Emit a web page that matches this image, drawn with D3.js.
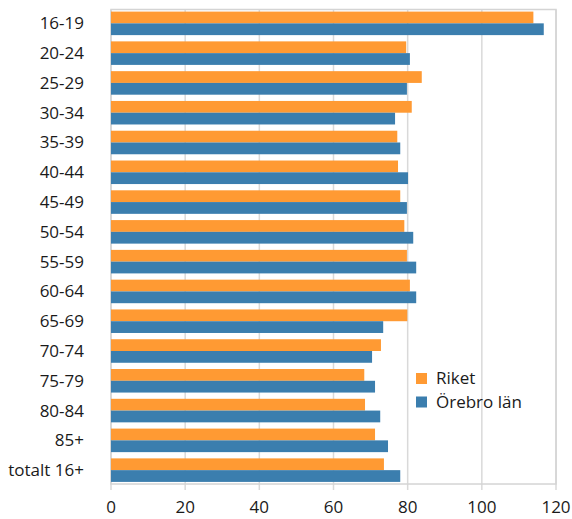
<!DOCTYPE html>
<html>
<head>
<meta charset="utf-8">
<script src="https://cdn.jsdelivr.net/npm/d3@7"></script>
<style>
  body { margin: 0; background: #fff; }
  svg text { font-family: "Open Sans", "Noto Sans", sans-serif; fill: #1a1a1a; }
</style>
</head>
<body>
<div class="container"></div>
<script>
// age groups, top to bottom
var categories = ["16-19", "20-24", "25-29", "30-34", "35-39", "40-44", "45-49", "50-54",
  "55-59", "60-64", "65-69", "70-74", "75-79", "80-84", "85+", "totalt 16+"];

var seriesNames = ["Riket", "Örebro län"];
var riket =  [113.9, 79.6, 83.8, 81.1, 77.2, 77.4, 78.0, 79.1, 79.8, 80.6, 79.9, 72.8, 68.3, 68.5, 71.2, 73.6];
var orebro = [116.7, 80.6, 79.8, 76.6, 78.0, 80.1, 79.8, 81.5, 82.3, 82.3, 73.4, 70.4, 71.2, 72.6, 74.7, 78.0];
var xTicks = [0, 20, 40, 60, 80, 100, 120];

var colors = ["#ff9a33", "#3b7eae"];

var opts = { width: 572, height: 519, left: 111, right: 556, top: 9.5, bottom: 484 };

var svg = d3.select('.container').append('svg')
  .attr('width', opts.width).attr('height', opts.height);

var x = d3.scaleLinear().domain([0, 120]).range([opts.left, opts.right]);
var y = d3.scaleBand().domain(categories).range([opts.top, opts.bottom])
  .paddingInner(0.21).paddingOuter(0.07);
var sub = d3.scaleBand().domain(seriesNames).range([0, y.bandwidth()]);

// gridlines + tick marks
svg.append('g').selectAll('line').data(xTicks).enter().append('line')
  .attr('x1', function(d){ return x(d); }).attr('x2', function(d){ return x(d); })
  .attr('y1', opts.top).attr('y2', opts.bottom + 6)
  .attr('stroke', '#d9d9d9').attr('stroke-width', 1.5);

// plot frame
svg.append('rect')
  .attr('x', opts.left).attr('y', opts.top)
  .attr('width', opts.right - opts.left).attr('height', opts.bottom - opts.top)
  .attr('fill', 'none').attr('stroke', '#d4d4d4').attr('stroke-width', 1.5);

// bars
var rows = categories.map(function(c, i){ return { cat: c, vals: [riket[i], orebro[i]] }; });
var groups = svg.append('g').selectAll('g').data(rows).enter().append('g')
  .attr('transform', function(d){ return 'translate(0,' + y(d.cat) + ')'; });

groups.selectAll('rect').data(function(d){ return d.vals; }).enter().append('rect')
  .attr('x', x(0))
  .attr('y', function(d, i){ return sub(seriesNames[i]); })
  .attr('width', function(d){ return x(d) - x(0); })
  .attr('height', sub.bandwidth())
  .attr('fill', function(d, i){ return colors[i]; });

// y labels
svg.append('g').selectAll('text').data(categories).enter().append('text')
  .attr('x', 84)
  .attr('y', function(d){ return y(d) + y.bandwidth() / 2; })
  .attr('dy', '0.35em')
  .attr('text-anchor', 'end')
  .style('font-size', '17px')
  .text(function(d){ return d; });

// x labels
svg.append('g').selectAll('text').data(xTicks).enter().append('text')
  .attr('x', function(d){ return x(d); })
  .attr('y', 513)
  .attr('text-anchor', 'middle')
  .style('font-size', '17px')
  .text(function(d){ return d; });

// legend
var legend = svg.append('g').selectAll('g').data(seriesNames).enter().append('g')
  .attr('transform', function(d, i){ return 'translate(416,' + (373 + i * 23.5) + ')'; });
legend.append('rect').attr('width', 11).attr('height', 11)
  .attr('fill', function(d, i){ return colors[i]; });
legend.append('text').attr('x', 20).attr('y', 5.5).attr('dy', '0.35em')
  .style('font-size', '17px')
  .text(function(d){ return d; });
</script>
</body>
</html>
